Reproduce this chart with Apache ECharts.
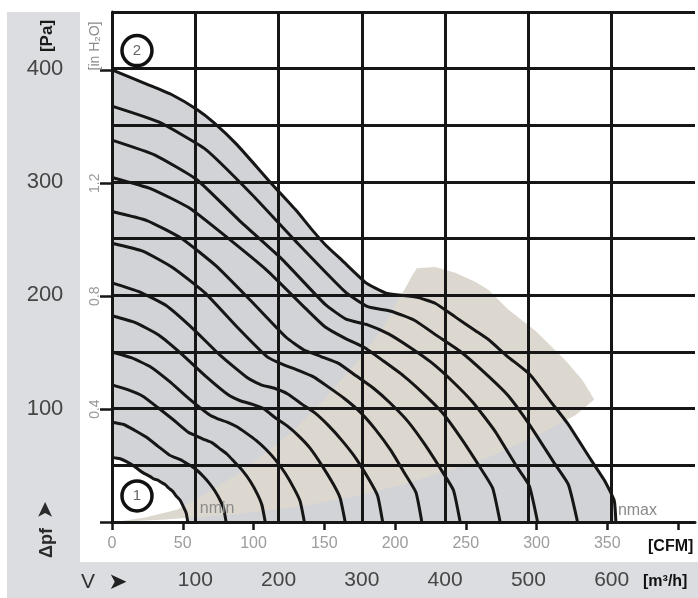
<!DOCTYPE html>
<html>
<head>
<meta charset="utf-8">
<script src="https://cdn.jsdelivr.net/npm/echarts@6/dist/echarts.min.js"></script>
<style>
html,body{margin:0;padding:0;background:#fff;}
#c{width:698px;height:598px;}
</style>
</head>
<body>
<div id="c"></div>
<script>
// ---- axis tick labels ----
const flowLabelsM3h = [100, 200, 300, 400, 500, 600];
const flowLabelsCfm = [0, 50, 100, 150, 200, 250, 300, 350];
const flowTickMarksCfm = [0, 50, 100, 150, 200, 250, 300, 350, 400];
const pressureLabelsPa = [100, 200, 300, 400];
const pressureLabelsInH2O = [0.4, 0.8, 1.2];
const pressureTickMarksInH2O = [0, 0.4, 0.8, 1.2, 1.6];

// ---- speed curves [flow m3/h, pressure Pa], lowest (nmin) to highest (nmax) ----
const speedCurve1 = [[0,57],[9,56],[18,53],[27,49],[36,44],[46,40],[50,38],[55,37],[59,35],[64,33],[68,30],[73,27],[77,23],[82,19],[86,13],[89,8],[91,0]];
const speedCurve2 = [[0,88],[14,86],[27,81],[41,75],[55,67],[69,59],[75,57],[82,55],[89,52],[96,49],[103,45],[110,40],[116,35],[123,28],[130,19],[134,12],[137,0]];
const speedCurve3 = [[0,121],[18,117],[37,111],[55,101],[74,90],[92,79],[101,76],[110,73],[120,70],[129,65],[138,60],[147,53],[156,46],[166,36],[175,24],[180,15],[184,0]];
const speedCurve4 = [[0,150],[23,145],[46,137],[69,124],[92,109],[116,95],[127,91],[139,88],[150,84],[162,78],[173,72],[185,64],[196,55],[208,43],[219,29],[226,18],[231,0]];
const speedCurve5 = [[0,182],[28,176],[56,165],[84,148],[112,129],[140,112],[154,107],[168,104],[182,100],[196,92],[210,85],[224,76],[238,65],[252,50],[266,33],[274,21],[280,0]];
const speedCurve6 = [[0,211],[33,203],[65,191],[98,170],[130,147],[163,127],[179,121],[195,118],[211,113],[228,104],[244,96],[260,85],[276,72],[293,56],[309,37],[319,23],[325,0]];
const speedCurve7 = [[0,246],[37,239],[74,224],[112,202],[149,173],[186,146],[205,139],[223,134],[242,128],[260,119],[279,109],[298,97],[316,82],[335,63],[353,41],[365,26],[372,0]];
const speedCurve8 = [[0,274],[42,266],[84,250],[125,226],[167,195],[209,163],[230,152],[251,146],[272,140],[293,129],[314,118],[334,105],[355,89],[376,68],[397,44],[410,28],[418,0]];
const speedCurve9 = [[0,304],[47,294],[93,277],[140,250],[186,222],[233,188],[256,172],[280,162],[303,154],[326,142],[350,129],[373,114],[396,97],[419,74],[443,47],[457,30],[466,0]];
const speedCurve10 = [[0,337],[51,324],[102,302],[153,266],[204,232],[256,192],[281,179],[307,174],[332,166],[358,154],[383,141],[409,124],[434,105],[460,80],[485,50],[501,32],[511,0]];
const speedCurve11 = [[0,367],[56,353],[112,329],[168,289],[224,245],[280,203],[307,190],[335,186],[363,178],[391,164],[419,150],[447,132],[475,112],[503,84],[531,52],[548,33],[559,0]];
const speedCurve12 = [[0,399],[43,386],[72,377],[102,364],[123,352],[150,333],[191,299],[221,275],[240,258],[257,244],[276,231],[305,211],[329,202],[348,200],[368,198],[388,193],[412,181],[436,169],[452,161],[475,146],[502,130],[527,106],[547,87],[575,55],[591,37],[603,19],[605,0]];

// ---- preferred operating zone (beige) outline ----
const zoneLeftEdge = [[3,0],[40,4],[79,11],[111,24],[159,46],[215,79],[252,106],[288,136],[308,154],[329,176],[341,193],[352,206],[360,217],[366,224]];
const zoneOuterArc = [[388,225],[412,220],[436,212],[452,205],[475,188],[508,169],[544,143],[565,125],[579,108]];
const zoneLowerEdge = [[556,94],[503,74],[452,57],[428,51],[350,33],[300,24],[228,14],[150,7],[60,2],[3,0]];

// ---- circled markers ----
const markerNames = ['2', '1'];
const markerFlow = [30, 30];
const markerPressure = [416, 23];

const M3H_PER_CFM = 1.699011;
const PA_PER_INH2O = 249.089;
const FLOW_MAX = 700;
const PA_MAX = 450;

const speedCurves = [speedCurve1, speedCurve2, speedCurve3, speedCurve4, speedCurve5, speedCurve6,
  speedCurve7, speedCurve8, speedCurve9, speedCurve10, speedCurve11, speedCurve12];

const envelope = speedCurve12.concat(speedCurve1.slice().reverse());
const zone = zoneLeftEdge.concat(zoneOuterArc, zoneLowerEdge);

function polygonSeries(points, color, z) {
  return {
    type: 'custom', coordinateSystem: 'cartesian2d', xAxisIndex: 0, yAxisIndex: 0,
    z: z, silent: true, clip: true, data: [[0, 0]],
    renderItem: function (params, api) {
      return { type: 'polygon', shape: { points: points.map(function (p) { return api.coord(p); }) },
        style: { fill: color, stroke: null } };
    }
  };
}

const LINE = '#161616';
const FONT = '"Liberation Sans", Arial, sans-serif';

const series = [
  polygonSeries(envelope, '#d1d3d6', 1),
  polygonSeries(zone, '#ddd8cf', 2)
];
speedCurves.forEach(function (curve, i) {
  const s = {
    type: 'line', name: 'n' + (i + 1), xAxisIndex: 0, yAxisIndex: 0, data: curve,
    showSymbol: false, symbol: 'none', smooth: 0.15, silent: true, z: 5,
    lineStyle: { color: LINE, width: 3, join: 'round' }
  };
  if (i === 0) {
    s.endLabel = { show: true, formatter: 'nmin', distance: 0, offset: [12, -13], fontSize: 16, color: '#8a8a8a', fontFamily: FONT };
  }
  if (i === speedCurves.length - 1) {
    s.endLabel = { show: true, formatter: 'nmax', distance: 0, offset: [2, -11], fontSize: 16, color: '#8a8a8a', fontFamily: FONT };
  }
  series.push(s);
});
series.push({
  type: 'scatter', xAxisIndex: 0, yAxisIndex: 0, z: 6, silent: true, symbolSize: 30,
  data: markerNames.map(function (n, i) { return { name: n, value: [markerFlow[i], markerPressure[i]] }; }),
  itemStyle: { color: '#ffffff', borderColor: '#111111', borderWidth: 3.5, opacity: 1 },
  label: { show: true, position: 'inside', formatter: '{b}', color: '#666666', fontSize: 15, fontFamily: FONT }
});

function near(list, v) { return list.some(function (t) { return Math.abs(t - v) < 1e-6; }); }

const option = {
  animation: false,
  backgroundColor: '#ffffff',
  textStyle: { fontFamily: FONT },
  grid: { left: 112, top: 12, right: 0, bottom: 76, containLabel: false },
  xAxis: [
    {
      type: 'value', min: 0, max: FLOW_MAX, interval: 100, position: 'bottom', z: 3,
      axisLine: { show: true, onZero: false, lineStyle: { color: LINE, width: 3 } },
      axisTick: { show: false },
      splitLine: { show: true, showMaxLine: false, lineStyle: { color: LINE, width: 3 } },
      axisLabel: { margin: 48, fontSize: 21, color: '#454545', fontFamily: FONT,
        formatter: function (v) { return near(flowLabelsM3h, v) ? String(v) : ''; } }
    },
    {
      type: 'value', min: 0, max: FLOW_MAX / M3H_PER_CFM, interval: 50, position: 'bottom', z: 3,
      axisLine: { show: false, onZero: false },
      axisTick: { show: true, length: 8, customValues: flowTickMarksCfm, lineStyle: { color: LINE, width: 2.5 } },
      splitLine: { show: false },
      axisLabel: { margin: 14, fontSize: 16, color: '#9c9c9c', fontFamily: FONT, customValues: flowLabelsCfm,
        formatter: function (v) { return near(flowLabelsCfm, v) ? String(v) : ''; } }
    }
  ],
  yAxis: [
    {
      type: 'value', min: 0, max: PA_MAX, interval: 50, position: 'left', z: 3,
      axisLine: { show: true, onZero: false, lineStyle: { color: LINE, width: 3 } },
      axisTick: { show: false },
      splitLine: { show: true, lineStyle: { color: LINE, width: 3 } },
      axisLabel: { margin: 67, align: 'center', fontSize: 22, color: '#454545', fontFamily: FONT,
        formatter: function (v) { return near(pressureLabelsPa, v) ? String(v) : ''; } }
    },
    {
      type: 'value', min: 0, max: PA_MAX / PA_PER_INH2O, interval: 0.4, position: 'left', offset: 0, z: 3,
      axisLine: { show: false, onZero: false },
      axisTick: { show: true, length: 12, customValues: pressureTickMarksInH2O, lineStyle: { color: LINE, width: 2.5 } },
      splitLine: { show: false },
      axisLabel: { rotate: 90, margin: 10, fontSize: 14, color: '#9a9a9a', fontFamily: FONT, customValues: pressureLabelsInH2O,
        formatter: function (v) { return near(pressureLabelsInH2O, v) ? v.toFixed(1) : ''; } }
    }
  ],
  graphic: [
    { type: 'rect', silent: true, z: -10, shape: { x: 7, y: 12, width: 73, height: 586 }, style: { fill: '#dcdde0' } },
    { type: 'rect', silent: true, z: -10, shape: { x: 7, y: 562, width: 691, height: 36 }, style: { fill: '#dcdde0' } },
    { type: 'text', silent: true, z: 10, x: 47, y: 36, rotation: Math.PI / 2,
      style: { text: '[Pa]', font: 'bold 17px ' + FONT, fill: '#1a1a1a', align: 'center', verticalAlign: 'middle' } },
    { type: 'text', silent: true, z: 10, x: 95, y: 46, rotation: Math.PI / 2,
      style: { text: '[in H₂O]', font: '14px ' + FONT, fill: '#8a8a8a', align: 'center', verticalAlign: 'middle' } },
    { type: 'text', silent: true, z: 10, x: 47, y: 543, rotation: Math.PI / 2,
      style: { text: 'Δpf', font: 'bold 18px ' + FONT, fill: '#2a2a2a', align: 'center', verticalAlign: 'middle' } },
    { type: 'text', silent: true, z: 10, x: 46, y: 510, rotation: Math.PI / 2,
      style: { text: '➤', font: '22px "DejaVu Sans"', fill: '#2a2a2a', align: 'center', verticalAlign: 'middle' } },
    { type: 'text', silent: true, z: 10, x: 88, y: 582,
      style: { text: 'V', font: '21px ' + FONT, fill: '#333333', align: 'center', verticalAlign: 'middle' } },
    { type: 'text', silent: true, z: 10, x: 118, y: 583,
      style: { text: '➤', font: '23px "DejaVu Sans"', fill: '#222222', align: 'center', verticalAlign: 'middle' } },
    { type: 'text', silent: true, z: 10, x: 643, y: 582,
      style: { text: '[m³/h]', font: 'bold 16px ' + FONT, fill: '#111111', align: 'left', verticalAlign: 'middle' } },
    { type: 'text', silent: true, z: 10, x: 648, y: 547,
      style: { text: '[CFM]', font: 'bold 16px ' + FONT, fill: '#111111', align: 'left', verticalAlign: 'middle' } }
  ],
  series: series
};

const chart = echarts.init(document.getElementById('c'), null, { renderer: 'canvas' });
chart.setOption(option);
</script>
</body>
</html>
